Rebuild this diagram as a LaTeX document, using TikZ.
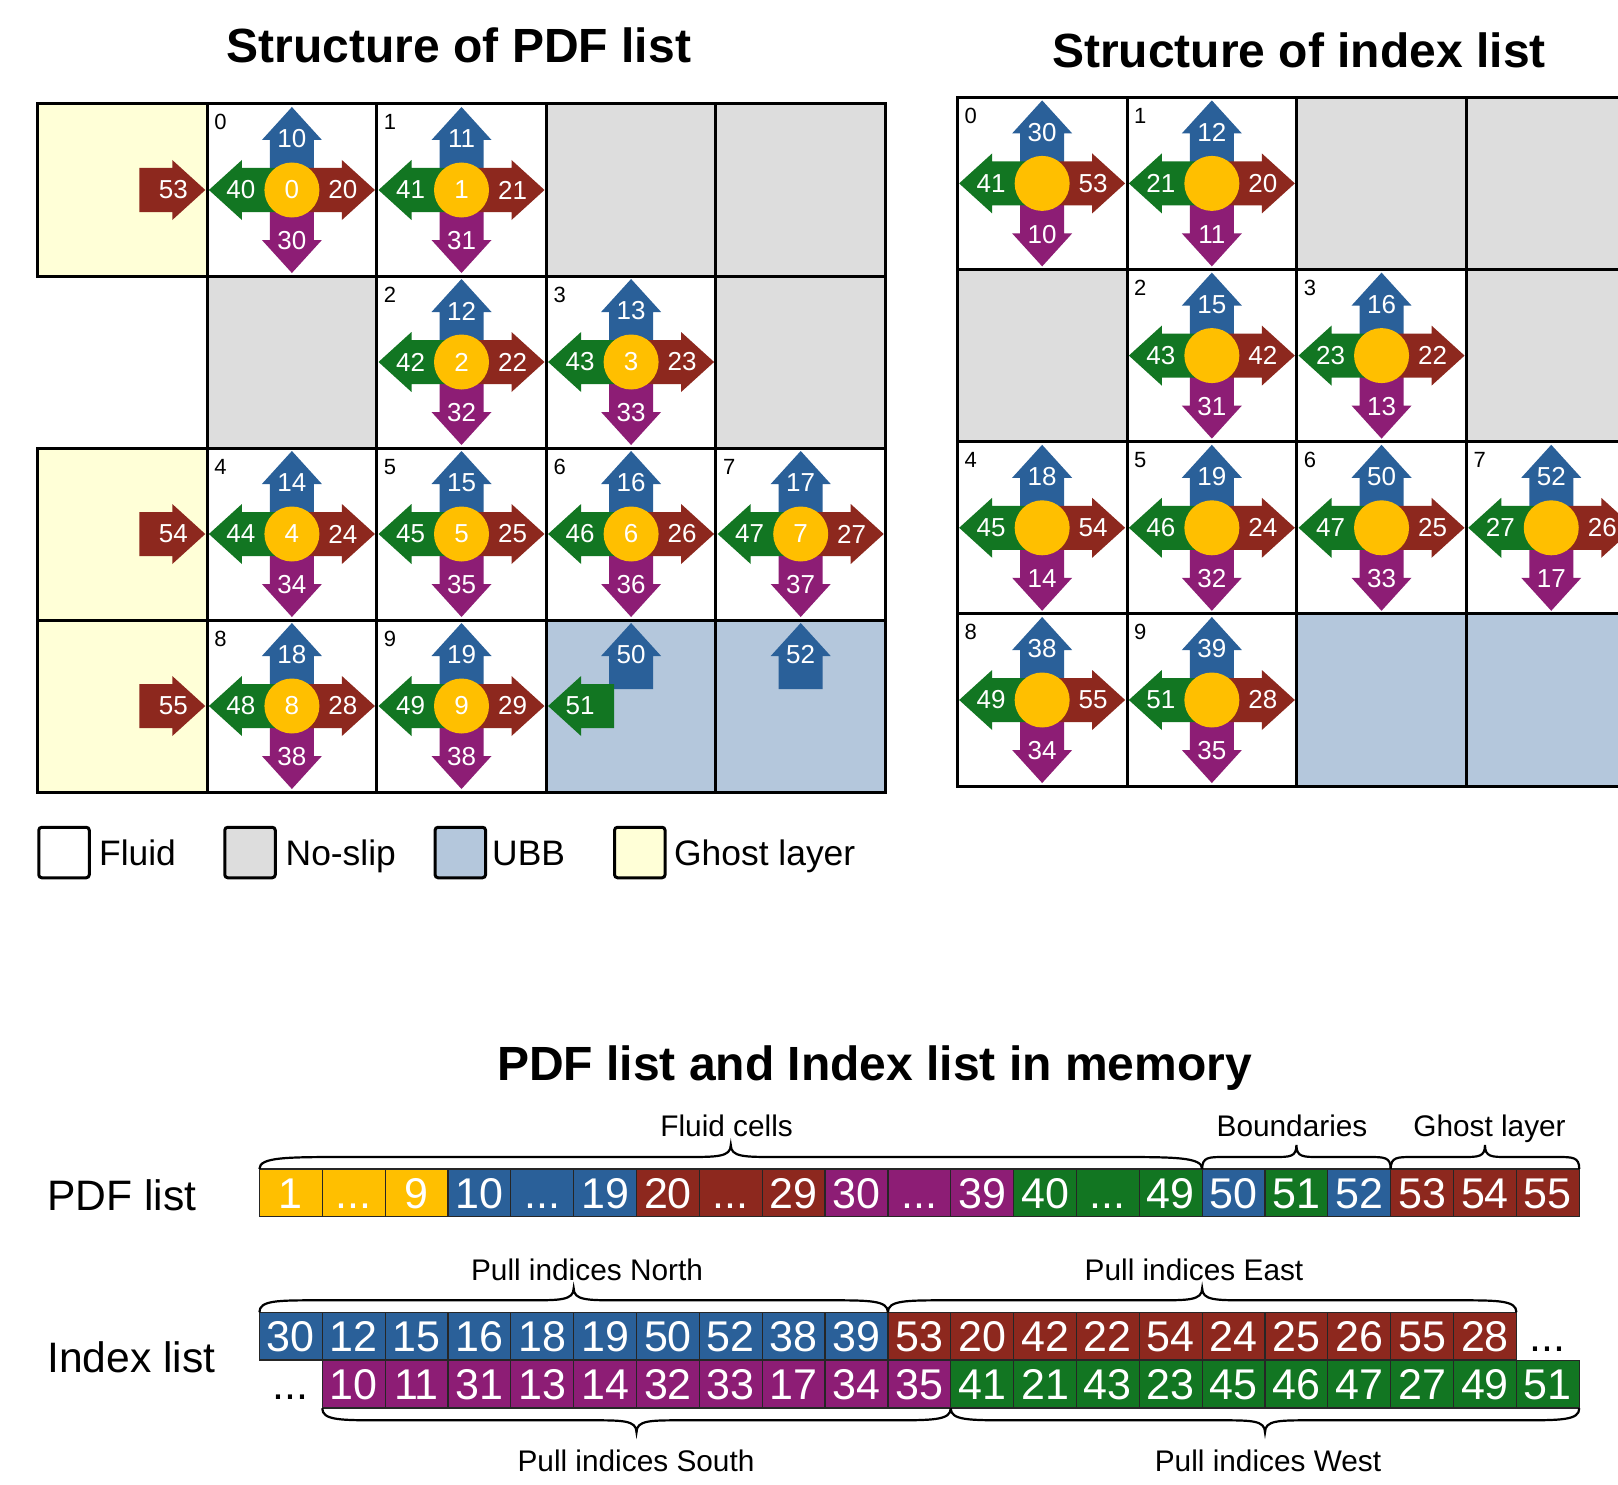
\documentclass[tikz,border=0pt]{standalone}
\usepackage{fontspec}
\setmainfont{Liberation Sans}
\definecolor{cGold}{HTML}{FFBF00}
\definecolor{cBlue}{HTML}{2A6099}
\definecolor{cRed}{HTML}{8D281E}
\definecolor{cGreen}{HTML}{127622}
\definecolor{cPurple}{HTML}{8D1D75}
\definecolor{cGray}{HTML}{DDDDDD}
\definecolor{cUBB}{HTML}{B4C7DC}
\definecolor{cGhost}{HTML}{FFFFD7}
\tikzset{
 fs/.style={font=\fontsize{#1}{#1}\selectfont},
 albl/.style={text=white, fs=26, inner sep=0pt},
 cnum/.style={fs=22, inner sep=0pt, anchor=base west},
 gridln/.style={line width=3pt, line join=miter},
 mc/.style={draw=black!85, line width=1.2pt, minimum width=62.85pt, minimum height=47.7pt, inner sep=0pt, text=white, fs=43, text height=30.8pt, text depth=0pt},
 mdots/.style={inner sep=0pt, fs=43, text height=30.8pt, text depth=0pt, minimum width=62.85pt, minimum height=47.7pt},
 brc/.style={line width=2.2pt},
 blbl/.style={fs=29.8, inner sep=0pt, anchor=base},
 ttl/.style={font=\fontsize{48}{48}\selectfont\bfseries, inner sep=0pt, anchor=base},
 legbox/.style={draw, line width=3pt, rounded corners=3pt, minimum size=50.5pt, inner sep=0pt},
 legtxt/.style={fs=35.4, inner sep=0pt, anchor=base west},
 rowlbl/.style={fs=42.6, inner sep=0pt, anchor=base west},
 pics/darr/.style n args={2}{code={\fill[#1] (#2,-22) -- (50,-22) -- (50,-30) -- (83,0) -- (50,30) -- (50,22) -- (#2,22) -- cycle;}},
}
\def\dd{...}
\newcommand\gcell[3]{\fill[#3] ({\gx+#1*\gw},{\gy+#2*\gh}) rectangle ++(\gw,\gh);}
\newcommand\gbord[2]{\draw[gridln] ({\gx+#1*\gw},{\gy+#2*\gh}) rectangle ++(\gw,\gh);}
\newcommand\fcell[9]{%
 \coordinate (#1) at ({\gx+(#2+0.5)*\gw},{\gy+(#3+0.5)*\gh});
 \pic[rotate=90] at (#1) {darr={cBlue}{0}};
 \pic[rotate=270] at (#1) {darr={cPurple}{0}};
 \pic[rotate=180] at (#1) {darr={cGreen}{0}};
 \pic at (#1) {darr={cRed}{0}};
 \fill[cGold] (#1) circle[radius=27.5pt];
 \node[albl] (#1N) at ([yshift=51pt]#1) {#5};
 \node[albl] (#1W) at ([xshift=-51pt]#1) {#6};
 \node[albl] (#1E) at ([xshift=51pt]#1) {#7};
 \node[albl] (#1S) at ([yshift=-51pt]#1) {#8};
 \node[albl] (#1C) at (#1) {#9};
 \node[cnum] (#1K) at ({\gx+#2*\gw+7},{\gy+#3*\gh+26}) {#4};
}
\newcommand\cbrace[6]{%
 \draw[brc] (#1,#3) .. controls (#1,{#3+0.5*(#4)}) and ({#1+0.3*#5},{#3+0.5*(#4)}) .. ({#1+#5},{#3+0.5*(#4)})
   -- ({(#1+#2)/2-#6},{#3+0.5*(#4)}) .. controls ({(#1+#2)/2-0.3*#6},{#3+0.5*(#4)}) and ({(#1+#2)/2},{#3+0.5*(#4)}) .. ({(#1+#2)/2},{#3+#4})
   .. controls ({(#1+#2)/2},{#3+0.5*(#4)}) and ({(#1+#2)/2+0.3*#6},{#3+0.5*(#4)}) .. ({(#1+#2)/2+#6},{#3+0.5*(#4)})
   -- ({#2-#5},{#3+0.5*(#4)}) .. controls ({#2-0.3*#5},{#3+0.5*(#4)}) and (#2,{#3+0.5*(#4)}) .. (#2,#3);
}
\begin{document}
\begin{tikzpicture}[x=1pt,y=-1pt]
\useasboundingbox (0,0) rectangle (1618,1485);
\clip (0,0) rectangle (1618,1485);
\fill[white] (0,0) rectangle (1618,1485);

% ---------- titles
\node[ttl] (t1) at (459,63) {Structure of PDF list};
\node[ttl] (t2) at (1299,68) {Structure of index list};
\node[ttl] (t3) at (874.5,1080) {PDF list and Index list in memory};

% ---------- PDF list grid
\def\gx{37.5}\def\gy{104}\def\gw{169.6}\def\gh{172}
\gcell{0}{0}{cGhost}\gcell{0}{2}{cGhost}\gcell{0}{3}{cGhost}
\gcell{3}{0}{cGray}\gcell{4}{0}{cGray}\gcell{1}{1}{cGray}\gcell{4}{1}{cGray}
\gcell{3}{3}{cUBB}\gcell{4}{3}{cUBB}
\foreach \c in {0,...,4}{\gbord{\c}{0}\gbord{\c}{2}\gbord{\c}{3}}
\foreach \c in {1,...,4}{\gbord{\c}{1}}
\fcell{p0}{1}{0}{0}{10}{40}{20}{30}{0}
\fcell{p1}{2}{0}{1}{11}{41}{21}{31}{1}
\fcell{p2}{2}{1}{2}{12}{42}{22}{32}{2}
\fcell{p3}{3}{1}{3}{13}{43}{23}{33}{3}
\fcell{p4}{1}{2}{4}{14}{44}{24}{34}{4}
\fcell{p5}{2}{2}{5}{15}{45}{25}{35}{5}
\fcell{p6}{3}{2}{6}{16}{46}{26}{36}{6}
\fcell{p7}{4}{2}{7}{17}{47}{27}{37}{7}
\fcell{p8}{1}{3}{8}{18}{48}{28}{38}{8}
\fcell{p9}{2}{3}{9}{19}{49}{29}{38}{9}
% ghost layer arrows
\coordinate (g0) at ({\gx+0.5*\gw},{\gy+0.5*\gh});
\coordinate (g2) at ({\gx+0.5*\gw},{\gy+2.5*\gh});
\coordinate (g3) at ({\gx+0.5*\gw},{\gy+3.5*\gh});
\pic at (g0) {darr={cRed}{17}};
\pic at (g2) {darr={cRed}{17}};
\pic at (g3) {darr={cRed}{17}};
\node[albl] (g0l) at ([xshift=51pt]g0) {53};
\node[albl] (g2l) at ([xshift=51pt]g2) {54};
\node[albl] (g3l) at ([xshift=51pt]g3) {55};
% UBB arrows
\coordinate (u0) at ({\gx+3.5*\gw},{\gy+3.5*\gh});
\coordinate (u1) at ({\gx+4.5*\gw},{\gy+3.5*\gh});
\pic[rotate=90] at (u0) {darr={cBlue}{17}};
\pic[rotate=180] at (u0) {darr={cGreen}{17}};
\pic[rotate=90] at (u1) {darr={cBlue}{17}};
\node[albl] (u0n) at ([yshift=51pt]u0) {50};
\node[albl] (u0w) at ([xshift=-51pt]u0) {51};
\node[albl] (u1n) at ([yshift=51pt]u1) {52};

% ---------- legend
\node[legbox, fill=white] (lg1) at (64,852.5) {};
\node[legtxt] (lt1) at (99,865.5) {Fluid};
\node[legbox, fill=cGray] (lg2) at (250,852.5) {};
\node[legtxt] (lt2) at (285.5,865.5) {No-slip};
\node[legbox, fill=cUBB] (lg3) at (460.3,852.5) {};
\node[legtxt] (lt3) at (492,865.5) {UBB};
\node[legbox, fill=cGhost] (lg4) at (639.8,852.5) {};
\node[legtxt] (lt4) at (674,865.5) {Ghost layer};

% ---------- index list grid
\def\gx{957.3}\def\gy{97.3}\def\gw{169.7}\def\gh{172.2}
\gcell{2}{0}{cGray}\gcell{3}{0}{cGray}\gcell{0}{1}{cGray}\gcell{3}{1}{cGray}
\gcell{2}{3}{cUBB}\gcell{3}{3}{cUBB}
\foreach \c in {0,...,3}{\foreach \r in {0,...,3}{\gbord{\c}{\r}}}
\fcell{i0}{0}{0}{0}{30}{41}{53}{10}{}
\fcell{i1}{1}{0}{1}{12}{21}{20}{11}{}
\fcell{i2}{1}{1}{2}{15}{43}{42}{31}{}
\fcell{i3}{2}{1}{3}{16}{23}{22}{13}{}
\fcell{i4}{0}{2}{4}{18}{45}{54}{14}{}
\fcell{i5}{1}{2}{5}{19}{46}{24}{32}{}
\fcell{i6}{2}{2}{6}{50}{47}{25}{33}{}
\fcell{i7}{3}{2}{7}{52}{27}{26}{17}{}
\fcell{i8}{0}{3}{8}{38}{49}{55}{34}{}
\fcell{i9}{1}{3}{9}{39}{51}{28}{35}{}

% ---------- memory lists
\def\mx{259.4}\def\mw{62.85}
\node[rowlbl] (lblP) at (47,1210.7) {PDF list};
\node[rowlbl] (lblI) at (47,1372) {Index list};
\foreach \t/\c [count=\i from 0] in {1/cGold,\dd/cGold,9/cGold,10/cBlue,\dd/cBlue,19/cBlue,20/cRed,\dd/cRed,29/cRed,30/cPurple,\dd/cPurple,39/cPurple,40/cGreen,\dd/cGreen,49/cGreen,50/cBlue,51/cGreen,52/cBlue,53/cRed,54/cRed,55/cRed}
  \node[mc, fill=\c] (pm\i) at ({\mx+(\i+0.5)*\mw},1192.9) {\t};
\foreach \t/\c [count=\i from 0] in {30/cBlue,12/cBlue,15/cBlue,16/cBlue,18/cBlue,19/cBlue,50/cBlue,52/cBlue,38/cBlue,39/cBlue,53/cRed,20/cRed,42/cRed,22/cRed,54/cRed,24/cRed,25/cRed,26/cRed,55/cRed,28/cRed}
  \node[mc, fill=\c] (it\i) at ({\mx+(\i+0.5)*\mw},1336.2) {\t};
\foreach \t/\c [count=\i from 1] in {10/cPurple,11/cPurple,31/cPurple,13/cPurple,14/cPurple,32/cPurple,33/cPurple,17/cPurple,34/cPurple,35/cPurple,41/cGreen,21/cGreen,43/cGreen,23/cGreen,45/cGreen,46/cGreen,47/cGreen,27/cGreen,49/cGreen,51/cGreen}
  \node[mc, fill=\c] (ib\i) at ({\mx+(\i+0.5)*\mw},1384.2) {\t};
\node[mdots] (dA) at ({\mx+0.5*\mw},1384.2) {\dd};
\node[mdots] (dB) at ({\mx+20.5*\mw},1336.2) {\dd};

% braces
\cbrace{259.4}{1202.15}{1169}{-24}{90}{45}
\cbrace{1202.15}{1390.7}{1169}{-24}{22}{22}
\cbrace{1390.7}{1579.25}{1169}{-24}{22}{22}
\cbrace{259.4}{887.9}{1312.3}{-24}{60}{45}
\cbrace{887.9}{1516.4}{1312.3}{-24}{60}{45}
\cbrace{322.25}{950.75}{1408.3}{24}{60}{45}
\cbrace{950.75}{1579.25}{1408.3}{24}{60}{45}
\node[blbl] (bF) at (726.6,1136.5) {Fluid cells};
\node[blbl] (bB) at (1292,1136.5) {Boundaries};
\node[blbl] (bG) at (1489.5,1136.5) {Ghost layer};
\node[blbl] (bN) at (587,1280.5) {Pull indices North};
\node[blbl] (bE) at (1194,1280.5) {Pull indices East};
\node[blbl] (bS) at (636,1471.5) {Pull indices South};
\node[blbl] (bW) at (1268,1471.5) {Pull indices West};
\end{tikzpicture}
\end{document}
